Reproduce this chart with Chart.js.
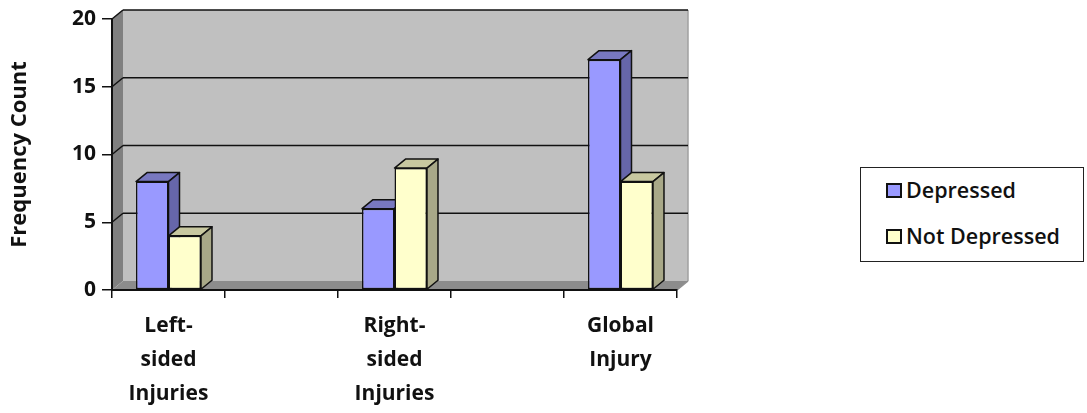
<!DOCTYPE html>
<html>
<head>
<meta charset="utf-8">
<style>
  html, body { margin: 0; padding: 0; background: #fff; }
  #wrap { position: relative; width: 1087px; height: 413px; overflow: hidden; }
  #legend {
    position: absolute; left: 860px; top: 167px; width: 222px; height: 93px;
    border: 1px solid #222; background: #fff;
    font: 600 21.5px "Open Sans", sans-serif; color: #111;
  }
  #legend div { position: absolute; left: 25px; white-space: nowrap; line-height: 24px; }
  #legend i {
    display: inline-block; width: 12px; height: 11px; border: 2px solid #111;
    margin-right: 4px; vertical-align: 0;
  }
</style>
</head>
<body>
<div id="wrap">
  <canvas id="chart" width="1087" height="413"></canvas>
  <div id="legend"></div>
</div>
<script src="https://cdn.jsdelivr.net/npm/chart.js@4"></script>
<script>
// blank slots between groups: the source chart has 5 categories, 2 of them empty
var categories = [ [ 'Left-', 'sided', 'Injuries' ], '', [ 'Right-', 'sided', 'Injuries' ], '', [ 'Global', 'Injury' ] ];
var depressed = [ 8, null, 6, null, 17 ];
var notDepressed = [ 4, null, 9, null, 8 ];
var yTicks = [ 0, 5, 10, 15, 20 ];

var FONT = '"Open Sans", sans-serif';
var DEPTH_X = 11;
var DEPTH_Y = 9;

function poly( ctx, pts, fill, stroke, width ) {
	ctx.beginPath();
	ctx.moveTo( pts[ 0 ][ 0 ], pts[ 0 ][ 1 ] );
	for ( var i = 1; i < pts.length; i++ ) {
		ctx.lineTo( pts[ i ][ 0 ], pts[ i ][ 1 ] );
	}
	ctx.closePath();
	if ( fill ) {
		ctx.fillStyle = fill;
		ctx.fill();
	}
	if ( stroke ) {
		ctx.strokeStyle = stroke;
		ctx.lineWidth = width || 1;
		ctx.stroke();
	}
}

function line( ctx, x1, y1, x2, y2, color, width ) {
	ctx.beginPath();
	ctx.moveTo( x1, y1 );
	ctx.lineTo( x2, y2 );
	ctx.strokeStyle = color;
	ctx.lineWidth = width;
	ctx.stroke();
}

// back wall, side wall and floor, placed from the chart area and y scale
var wallsPlugin = {
	id: 'walls',
	beforeDraw: function ( chart ) {
		var ctx = chart.ctx;
		var a = chart.chartArea;
		var y = chart.scales.y;
		var dx = DEPTH_X;
		var dy = DEPTH_Y;
		ctx.save();
		poly( ctx, [ [ a.left + dx, a.top - dy ], [ a.right + dx, a.top - dy ], [ a.right + dx, a.bottom - dy ], [ a.left + dx, a.bottom - dy ] ], '#c0c0c0' );
		poly( ctx, [ [ a.left, a.top ], [ a.left + dx, a.top - dy ], [ a.left + dx, a.bottom - dy ], [ a.left, a.bottom ] ], '#808080' );
		poly( ctx, [ [ a.left, a.bottom ], [ a.left + dx, a.bottom - dy ], [ a.right + dx, a.bottom - dy ], [ a.right, a.bottom ] ], '#8c8c8c' );
		// light outline along the top and right of the wall
		line( ctx, a.left, a.top, a.left + dx, a.top - dy, '#a8a8a8', 1 );
		line( ctx, a.right + dx, a.top - dy, a.right + dx, a.bottom - dy, '#a0a0a0', 1.5 );
		line( ctx, a.right + dx, a.bottom - dy, a.right, a.bottom, '#909090', 1.5 );
		yTicks.forEach( function ( v ) {
			if ( v === 0 ) return;
			var py = y.getPixelForValue( v );
			line( ctx, a.left, py, a.left + dx, py - dy, '#111', 1.5 );
			line( ctx, a.left + dx, py - dy, a.right + dx, py - dy, '#111', 1.5 );
		} );
		ctx.restore();
	},
	// tops and sides of the bars go under all of the front faces
	beforeDatasetsDraw: function ( chart ) {
		var ctx = chart.ctx;
		var dx = DEPTH_X;
		var dy = DEPTH_Y;
		var tops = [ '#7878c0', '#c8c8a0' ];
		var sides = [ '#6666aa', '#a8a888' ];
		ctx.save();
		ctx.lineJoin = 'round';
		chart.data.datasets.forEach( function ( ds, i ) {
			chart.getDatasetMeta( i ).data.forEach( function ( bar, j ) {
				if ( ds.data[ j ] === null ) return;
				var l = bar.x - bar.width / 2;
				var r = bar.x + bar.width / 2;
				poly( ctx, [ [ l, bar.y ], [ l + dx, bar.y - dy ], [ r + dx, bar.y - dy ], [ r, bar.y ] ], tops[ i ], '#111', 1.5 );
				poly( ctx, [ [ r, bar.y ], [ r + dx, bar.y - dy ], [ r + dx, bar.base - dy ], [ r, bar.base ] ], sides[ i ], '#111', 1.5 );
			} );
		} );
		ctx.restore();
	},
};

var chart = new Chart( document.getElementById( 'chart' ), {
	type: 'bar',
	data: {
		labels: categories,
		datasets: [
			{ label: 'Depressed', data: depressed, backgroundColor: '#9999ff', borderColor: '#111', borderWidth: 1.5, borderSkipped: false },
			{ label: 'Not Depressed', data: notDepressed, backgroundColor: '#ffffcc', borderColor: '#111', borderWidth: 1.5, borderSkipped: false },
		],
	},
	options: {
		responsive: false,
		animation: false,
		layout: { padding: { left: 0, right: 410, top: 19, bottom: 0 } },
		plugins: { legend: { display: false }, title: { display: false }, tooltip: { enabled: false } },
		datasets: { bar: { barPercentage: 1, categoryPercentage: 0.575 } },
		scales: {
			x: {
				afterFit: function ( scale ) { scale.height = 123; },
				grid: { display: true, drawOnChartArea: false, color: '#111', lineWidth: 1.5, tickLength: 8 },
				border: { display: true, color: '#111', width: 2 },
				ticks: {
					autoSkip: false, maxRotation: 0, minRotation: 0, padding: 11, color: '#111',
					font: { family: FONT, size: 21, weight: 'bold', lineHeight: 1.62 },
				},
			},
			y: {
				min: 0,
				max: 20,
				afterFit: function ( scale ) { scale.width = 112; },
				afterBuildTicks: function ( scale ) {
					scale.ticks = yTicks.map( function ( v ) { return { value: v }; } );
				},
				grid: { display: true, drawOnChartArea: false, color: '#111', lineWidth: 1.5, tickLength: 10 },
				border: { display: true, color: '#111', width: 2 },
				ticks: { padding: 6, color: '#111', font: { family: FONT, size: 21, weight: 'bold' } },
				title: {
					display: true, text: 'Frequency Count', color: '#111',
					padding: { top: 7, bottom: 0 },
					font: { family: FONT, size: 22, weight: 'bold' },
				},
			},
		},
	},
	plugins: [ wallsPlugin ],
} );

// html legend built from the datasets
var legendEl = document.getElementById( 'legend' );
chart.data.datasets.forEach( function ( ds, i ) {
	var row = document.createElement( 'div' );
	row.style.top = ( 10 + i * 46 ) + 'px';
	var box = document.createElement( 'i' );
	box.style.background = ds.backgroundColor;
	row.appendChild( box );
	row.appendChild( document.createTextNode( ds.label ) );
	legendEl.appendChild( row );
} );
</script>
</body>
</html>
